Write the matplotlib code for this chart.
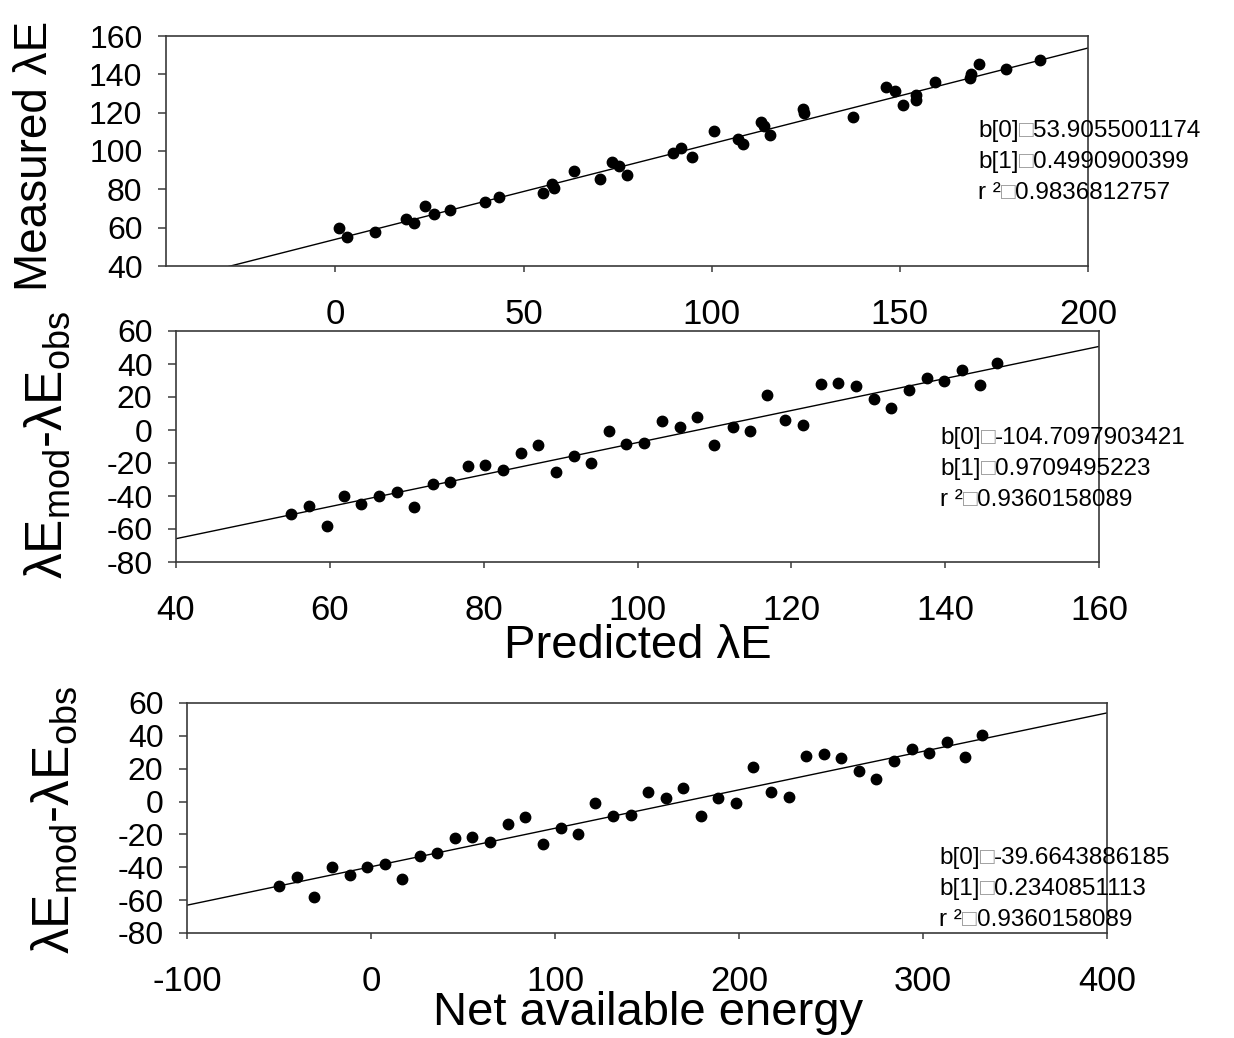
import matplotlib
matplotlib.use('Agg')
import numpy as np
import matplotlib.pyplot as plt

plt.rcParams['font.family'] = ['Liberation Sans', 'DejaVu Sans']
plt.rcParams['mathtext.fontset'] = 'custom'
plt.rcParams['mathtext.rm'] = 'Liberation Sans'
plt.rcParams['mathtext.it'] = 'Liberation Sans'
plt.rcParams['mathtext.default'] = 'rm'
plt.rcParams['axes.unicode_minus'] = False

# Top panel: predicted vs measured latent heat flux
pred_le = [0.9, 3.1, 10.6, 18.9, 21.0, 23.7, 26.1, 30.5, 39.8, 43.6,
           55.3, 57.5, 58.2, 63.3, 70.4, 73.6, 75.4, 77.5, 89.7, 91.9,
           94.8, 100.7, 106.9, 108.3, 113.1, 113.9, 115.5, 124.2, 124.5, 137.5,
           146.2, 148.8, 150.8, 154.3, 154.3, 159.3, 168.7, 168.9, 171.0, 178.1,
           187.2]
meas_le = [60.0, 55.3, 57.8, 64.5, 62.3, 71.5, 67.0, 69.1, 73.6, 76.0,
           78.3, 82.8, 80.6, 89.7, 85.2, 94.4, 92.2, 87.7, 99.1, 101.4,
           96.7, 110.6, 106.3, 103.7, 115.3, 113.1, 108.2, 122.1, 119.7, 117.6,
           133.6, 131.2, 124.2, 129.2, 126.6, 135.8, 137.9, 140.3, 145.2, 142.8,
           147.3]

# Middle / bottom panels: residuals vs predicted and vs net available energy
pred_sorted = [55.0, 57.3, 59.6, 61.8, 64.1, 66.4, 68.7, 71.0, 73.4, 75.6,
               78.0, 80.2, 82.5, 84.8, 87.1, 89.4, 91.7, 94.0, 96.3, 98.5,
               100.8, 103.2, 105.5, 107.8, 110.0, 112.4, 114.6, 116.9, 119.2, 121.5,
               123.8, 126.1, 128.4, 130.7, 133.0, 135.3, 137.6, 139.9, 142.2, 144.5,
               146.8]
net_energy = [-49.8, -40.4, -30.8, -21.2, -11.6, -2.2, 7.4, 17.0, 26.4, 36.0,
              45.7, 55.1, 64.7, 74.3, 83.9, 93.5, 103.1, 112.5, 121.9, 131.5,
              141.1, 150.7, 160.2, 169.6, 179.2, 188.8, 198.2, 207.8, 217.4, 227.0,
              236.6, 246.0, 255.4, 265.1, 274.5, 284.2, 293.9, 303.4, 313.0, 322.6,
              332.1]
residual = [-51.1, -45.9, -58.2, -40.0, -44.7, -39.8, -37.8, -46.9, -32.9, -31.5,
            -22.0, -21.4, -24.4, -13.7, -9.1, -25.6, -15.8, -19.8, -0.8, -8.5,
            -8.1, 5.6, 2.0, 8.1, -8.9, 2.0, -0.8, 21.0, 5.9, 3.0,
            27.7, 28.7, 26.5, 18.6, 13.5, 24.4, 31.7, 29.7, 36.4, 27.3,
            40.8]

# regression coefficients printed on the chart
fit_top = ('53.9055001174', '0.4990900399', '0.9836812757')
fit_mid = ('-104.7097903421', '0.9709495223', '0.9360158089')
fit_bot = ('-39.6643886185', '0.2340851113', '0.9360158089')

W, H = 1234, 1038
fig = plt.figure(figsize=(W / 100, H / 100), dpi=100)
SPINE = '#3a3a3a'


def px_axes(left, top, right, bottom):
    return fig.add_axes([left / W, 1 - bottom / H, (right - left) / W, (bottom - top) / H])


def style(ax, xlim, ylim, xticks, yticks):
    ax.set_xlim(*xlim)
    ax.set_ylim(*ylim)
    ax.set_xticks(xticks)
    ax.set_yticks(yticks)
    for s in ax.spines.values():
        s.set_color(SPINE)
        s.set_linewidth(1.2)
    ax.tick_params(axis='x', direction='out', length=4, width=1.1, color=SPINE,
                   labelsize=25, pad=19)
    ax.tick_params(axis='y', direction='out', length=6, width=1.1, color=SPINE,
                   labelsize=23, pad=11)


def panel(ax, x, y, fit, xlim):
    ax.plot(x, y, 'o', color='black', markersize=7.5, zorder=3)
    b0, b1 = float(fit[0]), float(fit[1])
    xx = np.array(xlim)
    ax.plot(xx, b0 + b1 * xx, color='black', linewidth=1.0, zorder=2)


def annotate_fit(x, y0, fit, dy=31):
    labels = ['b[0]', 'b[1]', 'r \u00b2']
    for i, (lab, val) in enumerate(zip(labels, fit)):
        t1 = fig.text(x / W, 1 - (y0 + i * dy) / H, lab, fontsize=17.5,
                      ha='left', va='center')
        # unrendered '=' shows as an empty box in the original
        t2 = plt.annotate('\u25a1', xy=(1, 0), xycoords=t1, ha='left', va='bottom',
                          fontsize=17.5, color='#999999', annotation_clip=False)
        plt.annotate(val, xy=(1, 0), xycoords=t2, ha='left', va='bottom',
                     fontsize=17.5, annotation_clip=False)


# top panel
ax1 = px_axes(166, 36, 1088, 266)
style(ax1, (-45, 200), (40, 160), [0, 50, 100, 150, 200], range(40, 161, 20))
panel(ax1, pred_le, meas_le, fit_top, (-45, 200))

# middle panel
ax2 = px_axes(176, 331, 1099, 562)
style(ax2, (40, 160), (-80, 60), range(40, 161, 20), range(-80, 61, 20))
panel(ax2, pred_sorted, residual, fit_mid, (40, 160))

# bottom panel
ax3 = px_axes(187, 703, 1107, 933)
style(ax3, (-100, 400), (-80, 60), range(-100, 401, 100), range(-80, 61, 20))
panel(ax3, net_energy, residual, fit_bot, (-100, 400))

# axis titles
res_label = r'$\lambda$E$_{mod}$-$\lambda$E$_{obs}$'
fig.text(35 / W, 1 - 156 / H, 'Measured \u03bbE', fontsize=33, rotation=90,
         ha='center', va='center')
fig.text(48 / W, 1 - 445 / H, res_label, fontsize=37, rotation=90,
         ha='center', va='center')
fig.text(55 / W, 1 - 820 / H, res_label, fontsize=37, rotation=90,
         ha='center', va='center')
fig.text(638 / W, 1 - 646 / H, 'Predicted \u03bbE', fontsize=34,
         ha='center', va='center')
fig.text(648 / W, 1 - 1013 / H, 'Net available energy', fontsize=34,
         ha='center', va='center')

annotate_fit(978, 131, fit_top)
annotate_fit(940, 438, fit_mid)
annotate_fit(939, 858, fit_bot)

fig.savefig('out.png', dpi=100)
